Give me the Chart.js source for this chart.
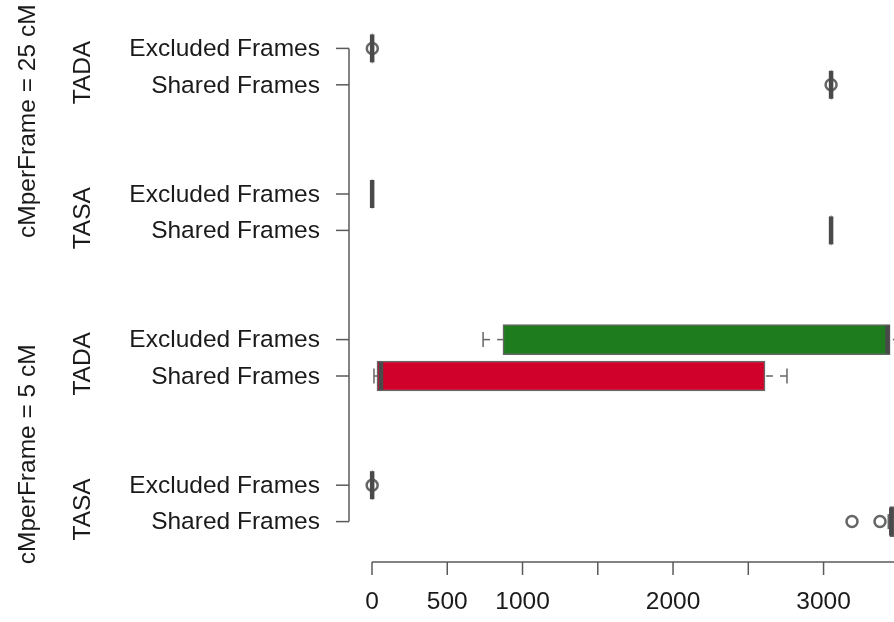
<!DOCTYPE html>
<html>
<head>
<meta charset="utf-8">
<script src="https://cdn.jsdelivr.net/npm/chart.js@4.4.0/dist/chart.umd.min.js"></script>
<style>
html,body{margin:0;padding:0;background:#fff;}
#wrap{width:894px;height:622px;position:relative;}
</style>
</head>
<body>
<div id="wrap"><canvas id="c" width="894" height="622"></canvas></div>
<script>
// ---- data ----
const groupLabels = ['cMperFrame = 25 cM', 'cMperFrame = 5 cM'];
const methodLabels = ['TADA', 'TASA', 'TADA', 'TASA'];
const categories = ['Excluded Frames', 'Shared Frames', 'Excluded Frames', 'Shared Frames',
                    'Excluded Frames', 'Shared Frames', 'Excluded Frames', 'Shared Frames'];
const rowPositions = [1, 2, 5, 6, 9, 10, 13, 14];
const lowerWhisker = [0,    3048, 0, 3048, 738,  13,   0, 3430];
const q1Values     = [0,    3049, 0, 3049, 870,  33,   0, 3440];
const medianValues = [1,    3050, 1, 3050, 3425, 60,   1, 3450];
const q3Values     = [2,    3051, 2, 3051, 3442, 2611, 2, 3470];
const upperWhisker = [3,    3052, 2, 3052, 3600, 2757, 3, 3520];
const outlierValues = [[2], [3050], [], [], [], [], [1], [3189, 3375]];
const boxColors = ['#555555', '#555555', '#555555', '#555555', '#1e7b1e', '#d0022b', '#555555', '#555555'];
const xTickValues = [0, 500, 1000, 1500, 2000, 2500, 3000];
const xTickLabels = ['0', '500', '1000', '', '2000', '', '3000'];

// ---- build datasets ----
const boxData = rowPositions.map((p, i) => ({ y: p, x: [q1Values[i], q3Values[i]] }));
const outlierData = [];
outlierValues.forEach((arr, i) => arr.forEach(v => outlierData.push({ x: v, y: rowPositions[i] })));

const FONT = "'Liberation Sans', Arial, Helvetica, sans-serif";
const AXIS = '#5a5a5a';

const boxPlugin = {
  id: 'boxExtras',
  afterDatasetsDraw(chart) {
    const ctx = chart.ctx, xs = chart.scales.x, ys = chart.scales.y;
    ctx.save();
    rowPositions.forEach((p, i) => {
      const py = ys.getPixelForValue(p);
      const xl = xs.getPixelForValue(lowerWhisker[i]);
      const x1 = xs.getPixelForValue(q1Values[i]);
      const xm = xs.getPixelForValue(medianValues[i]);
      const x3 = xs.getPixelForValue(q3Values[i]);
      const xu = xs.getPixelForValue(upperWhisker[i]);
      ctx.strokeStyle = '#666';
      ctx.lineWidth = 1.5;
      ctx.setLineDash([7, 7]);
      if (x1 - xl > 1) { ctx.beginPath(); ctx.moveTo(xl, py); ctx.lineTo(x1, py); ctx.stroke(); }
      if (xu - x3 > 1) { ctx.beginPath(); ctx.moveTo(xu, py); ctx.lineTo(x3, py); ctx.stroke(); }
      ctx.setLineDash([]);
      if (x1 - xl > 1) { ctx.beginPath(); ctx.moveTo(xl, py - 7.5); ctx.lineTo(xl, py + 7.5); ctx.stroke(); }
      if (xu - x3 > 1) { ctx.beginPath(); ctx.moveTo(xu, py - 7.5); ctx.lineTo(xu, py + 7.5); ctx.stroke(); }
      ctx.strokeStyle = '#4a4a4a';
      ctx.lineWidth = 4.5;
      ctx.beginPath(); ctx.moveTo(xm, py - 14); ctx.lineTo(xm, py + 14); ctx.stroke();
    });
    ctx.restore();
  },
  afterDraw(chart) {
    const ctx = chart.ctx, xs = chart.scales.x, ys = chart.scales.y;
    ctx.save();
    ctx.strokeStyle = AXIS;
    ctx.lineWidth = 1.5;
    // x axis
    const axY = 562;
    const x0 = xs.getPixelForValue(xTickValues[0]);
    ctx.beginPath(); ctx.moveTo(x0, axY); ctx.lineTo(chart.width, axY); ctx.stroke();
    ctx.fillStyle = '#1a1a1a';
    ctx.font = '24.5px ' + FONT;
    ctx.textAlign = 'center';
    ctx.textBaseline = 'middle';
    xTickValues.forEach((v, i) => {
      const px = xs.getPixelForValue(v);
      ctx.beginPath(); ctx.moveTo(px, axY); ctx.lineTo(px, axY + 13); ctx.stroke();
      if (xTickLabels[i]) ctx.fillText(xTickLabels[i], px, 602);
    });
    // y axis
    const axX = 349;
    const yTop = ys.getPixelForValue(rowPositions[0]);
    const yBot = ys.getPixelForValue(rowPositions[rowPositions.length - 1]);
    ctx.beginPath(); ctx.moveTo(axX, yTop); ctx.lineTo(axX, yBot); ctx.stroke();
    ctx.textAlign = 'right';
    rowPositions.forEach((p, i) => {
      const py = ys.getPixelForValue(p);
      ctx.beginPath(); ctx.moveTo(axX - 13, py); ctx.lineTo(axX, py); ctx.stroke();
      ctx.fillText(categories[i], 320, py + 1);
    });
    // method labels
    ctx.textAlign = 'center';
    methodLabels.forEach((m, k) => {
      const pm = (ys.getPixelForValue(rowPositions[2 * k]) + ys.getPixelForValue(rowPositions[2 * k + 1])) / 2 + 6;
      ctx.save(); ctx.translate(83, pm); ctx.rotate(-Math.PI / 2); ctx.fillText(m, 0, 0); ctx.restore();
    });
    // group labels
    const groupCenters = [ys.getPixelForValue(3.0), ys.getPixelForValue(12.15)];
    groupLabels.forEach((g, k) => {
      ctx.save(); ctx.translate(28, groupCenters[k]); ctx.rotate(-Math.PI / 2); ctx.fillText(g, 0, 0); ctx.restore();
    });
    ctx.restore();
  }
};

new Chart(document.getElementById('c'), {
  type: 'bar',
  data: {
    datasets: [
      {
        type: 'bar',
        data: boxData,
        backgroundColor: boxColors,
        borderColor: '#666666',
        borderWidth: 1.5,
        borderSkipped: false,
        barThickness: 30,
        clip: false
      },
      {
        type: 'scatter',
        data: outlierData,
        pointStyle: 'circle',
        pointRadius: 5.5,
        pointBorderWidth: 2.5,
        pointBorderColor: '#666666',
        pointBackgroundColor: 'rgba(0,0,0,0)',
        clip: false
      }
    ]
  },
  options: {
    indexAxis: 'y',
    responsive: false,
    animation: false,
    events: [],
    layout: { autoPadding: false, padding: { left: 372, right: 0, top: 12, bottom: 64 } },
    plugins: { legend: { display: false }, tooltip: { enabled: false }, title: { display: false } },
    scales: {
      x: { type: 'linear', min: 0, max: 3468, display: false, offset: false },
      y: { type: 'linear', min: 0, max: 15, reverse: true, display: false, offset: false }
    }
  },
  plugins: [boxPlugin]
});
</script>
</body>
</html>
